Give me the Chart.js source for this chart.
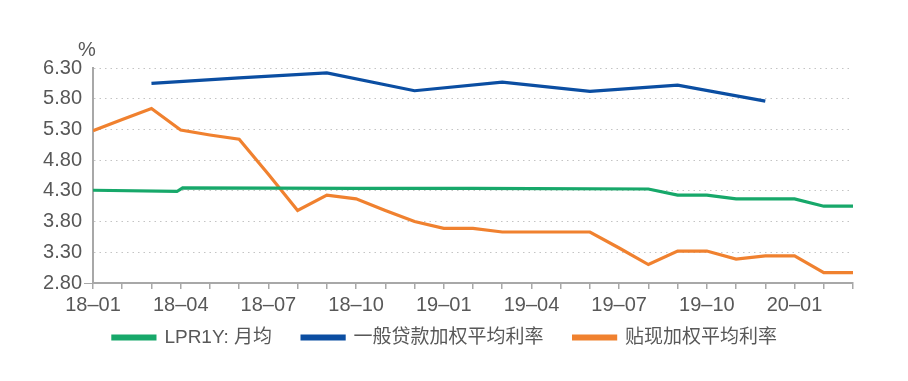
<!DOCTYPE html>
<html><head><meta charset="utf-8">
<script src="https://cdn.jsdelivr.net/npm/chart.js@4.4.1/dist/chart.umd.min.js"></script>
<style>html,body{margin:0;padding:0;background:#fff}#wrap{width:908px;height:381px;position:relative}</style>
</head><body><div id="wrap"><canvas id="c" width="908" height="381"></canvas></div>
<script>
// ---- data ----
const months = ['18-01','18-02','18-03','18-04','18-05','18-06','18-07','18-08','18-09','18-10','18-11','18-12',
                '19-01','19-02','19-03','19-04','19-05','19-06','19-07','19-08','19-09','19-10','19-11','19-12',
                '20-01','20-02','20-03'];
const yTickValues = [2.80, 3.30, 3.80, 4.30, 4.80, 5.30, 5.80, 6.30];
const yUnit = '%';
const seriesNames = ['LPR1Y: 月均', '一般贷款加权平均利率', '贴现加权平均利率'];

// LPR 1Y monthly average (dated observations)
const lprDates  = ['2018-01-01','2018-03-28','2018-04-03','2018-10-01','2019-02-01','2019-08-01','2019-09-01','2019-10-01','2019-11-01','2020-01-01','2020-02-01','2020-03-01'];
const lprValues = [4.31, 4.29, 4.35, 4.34, 4.34, 4.33, 4.23, 4.23, 4.17, 4.17, 4.05, 4.05];

// general loan weighted average rate (quarterly)
const loanRate = [null,null,6.05,null,null,6.14,null,null,6.22,null,null,5.93,
                  null,null,6.07,null,null,5.92,null,null,6.02,null,null,5.76,
                  null,null,null];
// discount weighted average rate (monthly)
const discountRate = [5.28,5.46,5.64,5.29,5.21,5.14,4.57,3.98,4.23,4.17,3.98,3.80,
                      3.69,3.69,3.63,3.63,3.63,3.63,3.37,3.10,3.32,3.32,3.19,3.24,
                      3.24,2.97,2.97];

// ---- helpers ----
function monthPos(dateStr){
  const [y,m,d] = dateStr.split('-').map(Number);
  const dim = new Date(y, m, 0).getDate();
  return (y-2018)*12 + (m-1) + (d-1)/dim;
}
const toXY = arr => arr.map((v,i)=>({x:i, y:v}));

const axisFont = {family:'"Liberation Sans", Arial, sans-serif', size:20};
const legendFont = {family:'"Liberation Sans", Arial, "Noto Sans CJK SC", sans-serif', size:19};
const textColor = '#585858';
const axisColor = '#a8a8a8';

const unitPlugin = {
  id:'unitLabel',
  afterDraw(chart){
    const {ctx, chartArea} = chart;
    ctx.save();
    ctx.font = '20px "Liberation Sans", Arial, sans-serif';
    ctx.fillStyle = textColor;
    ctx.textAlign = 'center';
    ctx.textBaseline = 'middle';
    ctx.fillText(yUnit, chartArea.left - 6, chartArea.top - 18);
    ctx.restore();
  }
};

new Chart(document.getElementById('c'), {
  type:'line',
  data:{
    datasets:[
      {label:seriesNames[0], data:lprDates.map((d,i)=>({x:monthPos(d), y:lprValues[i]})),
       borderColor:'#17a86a', backgroundColor:'#17a86a', borderWidth:3.2, pointRadius:0, tension:0},
      {label:seriesNames[1], data:toXY(loanRate), spanGaps:true,
       borderColor:'#0b4ea2', backgroundColor:'#0b4ea2', borderWidth:3.2, pointRadius:0, tension:0},
      {label:seriesNames[2], data:toXY(discountRate),
       borderColor:'#f0812f', backgroundColor:'#f0812f', borderWidth:3.2, pointRadius:0, tension:0}
    ]
  },
  options:{
    responsive:false, animation:false, devicePixelRatio:1,
    layout:{padding:{top:68, bottom:24, left:0, right:18}},
    plugins:{
      legend:{position:'bottom', labels:{boxWidth:42, boxHeight:3, padding:30, color:textColor, font:legendFont}},
      tooltip:{enabled:false}
    },
    scales:{
      x:{type:'linear', min:0, max:months.length-1,
         afterBuildTicks:s=>{ s.ticks = months.map((m,i)=>({value:i})); },
         ticks:{autoSkip:false, maxRotation:0, minRotation:0, padding:4, color:textColor, font:axisFont,
                callback:v=> (v%3===0 ? months[v].replace('-','–') : '')},
         grid:{drawOnChartArea:false, drawTicks:true, tickLength:6, color:axisColor, lineWidth:1.5},
         border:{color:axisColor, width:2},
         afterFit:s=>{ s.height = 15; s._computeLabelArea = () => undefined; }
      },
      y:{min:2.8, max:6.3,
         afterBuildTicks:s=>{ s.ticks = yTickValues.map(v=>({value:v})); },
         ticks:{padding:2, color:textColor, font:axisFont, callback:v=>Number(v).toFixed(2)},
         grid:{drawTicks:true, tickLength:9, lineWidth:1,
               color:c=> c.index===0 ? 'rgba(0,0,0,0)' : '#c4c4c4',
               tickColor:c=> c.index===0 ? axisColor : 'rgba(0,0,0,0)'},
         border:{color:axisColor, width:2, dash:[1.5,4]},
         afterFit:s=>{ s.width = 93; }
      },
      y2:{position:'right', display:true, min:0, max:1,
          grid:{display:false}, ticks:{display:false}, border:{display:false},
          afterFit:s=>{ s.width = 37; }
      }
    }
  },
  plugins:[unitPlugin]
});
</script>
</body></html>
